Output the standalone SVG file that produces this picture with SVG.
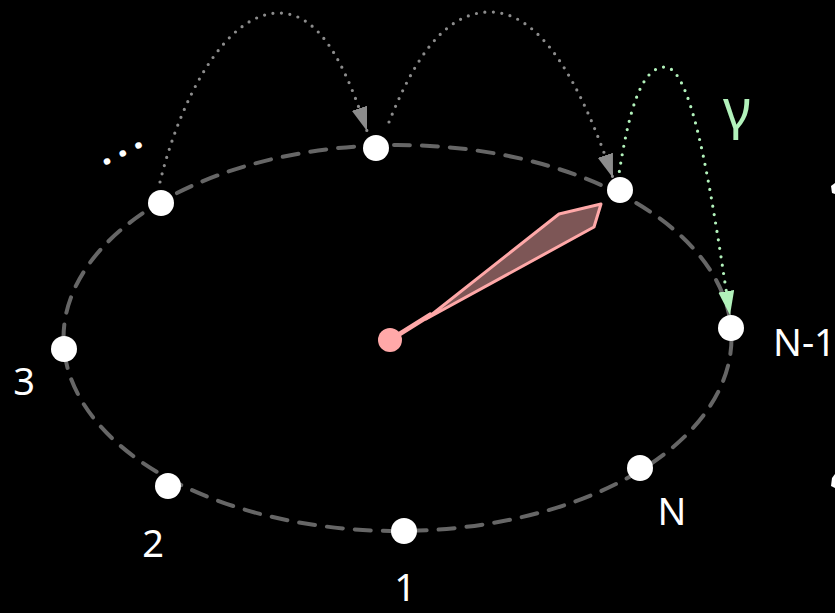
<svg xmlns="http://www.w3.org/2000/svg" width="835" height="613" viewBox="0 0 835 613">
  <defs>
    <style>
      .node { fill: #ffffff; }
      .lbl { fill: #ffffff; font-family: "Noto Sans", "Open Sans", sans-serif; font-size: 38px; }
      .hop { fill: none; stroke: #8c8c8c; stroke-width: 3.2; stroke-linecap: round; stroke-dasharray: 0 8.5; }
      .hop-g { fill: none; stroke: #b2f2bb; stroke-width: 3.2; stroke-linecap: round; stroke-dasharray: 0 8.5; }
    </style>
    <marker id="ah" markerUnits="userSpaceOnUse" markerWidth="26" markerHeight="18" refX="24" refY="8" orient="auto">
      <path d="M0,0 L24,8 L0,16 z" fill="#8c8c8c"/>
    </marker>
    <marker id="ah-g" markerUnits="userSpaceOnUse" markerWidth="26" markerHeight="18" refX="24" refY="8" orient="auto">
      <path d="M0,0 L24,8 L0,16 z" fill="#b2f2bb"/>
    </marker>
  </defs>
  <rect x="0" y="0" width="835" height="613" fill="#000000"/>

  <g id="ring">
    <ellipse cx="397.5" cy="338" rx="334" ry="193" fill="none" stroke="#666666" stroke-width="4" stroke-dasharray="16 12" stroke-linecap="round"/>
  </g>

  <g id="connectors">
    <path class="hop" d="M160,182 C180,100 225,13 279,13 C325,13 350,80 367,131" marker-end="url(#ah)"/>
    <path class="hop" d="M389,122 C410,70 440,12 490,12 C540,12 580,80 613,178" marker-end="url(#ah)"/>
    <path class="hop-g" d="M618,180 C628,115 640,67 665,67 C695,67 715,220 730,315" marker-end="url(#ah-g)"/>
  </g>

  <g id="pointer">
    <line x1="390" y1="340" x2="430" y2="315" stroke="#ffa8a8" stroke-width="5" stroke-linecap="round"/>
    <polygon points="426,319 559,214 601,204 594,227" fill="#7d5656" stroke="#ffa8a8" stroke-width="3" stroke-linejoin="round"/>
    <circle cx="390" cy="340" r="12" fill="#ffa8a8"/>
  </g>

  <g id="node-1"><circle class="node" cx="404" cy="531" r="13"/><text class="lbl" x="405" y="601" font-size="34" text-anchor="middle">1</text></g>
  <g id="node-2"><circle class="node" cx="168" cy="486" r="13"/><text class="lbl" x="153" y="557" text-anchor="middle">2</text></g>
  <g id="node-3"><circle class="node" cx="64" cy="349" r="13"/><text class="lbl" x="24" y="395" text-anchor="middle">3</text></g>
  <g id="node-dots"><circle class="node" cx="161" cy="203" r="13"/><text class="lbl" x="101" y="164" font-size="50" font-weight="700" letter-spacing="7" transform="rotate(-27 107 160)">...</text></g>
  <g id="node-top"><circle class="node" cx="376" cy="148" r="13"/></g>
  <g id="node-cur"><circle class="node" cx="620" cy="190" r="13"/></g>
  <g id="node-n1"><circle class="node" cx="731" cy="328" r="13"/><text class="lbl" x="773" y="356" font-size="35">N-1</text></g>
  <g id="node-n"><circle class="node" cx="640" cy="468" r="13"/><text class="lbl" x="672" y="525" text-anchor="middle">N</text></g>

  <g id="gamma-label"><text x="737" y="128" text-anchor="middle" fill="#b2f2bb" font-family="Noto Sans, Open Sans, sans-serif" font-size="54">γ</text></g>

  <g id="edge-marks" fill="#ffffff">
    <polygon points="831,186 835,183 835,194 832,193"/>
    <polygon points="832,478 835,474 835,488 831,486"/>
  </g>
</svg>
